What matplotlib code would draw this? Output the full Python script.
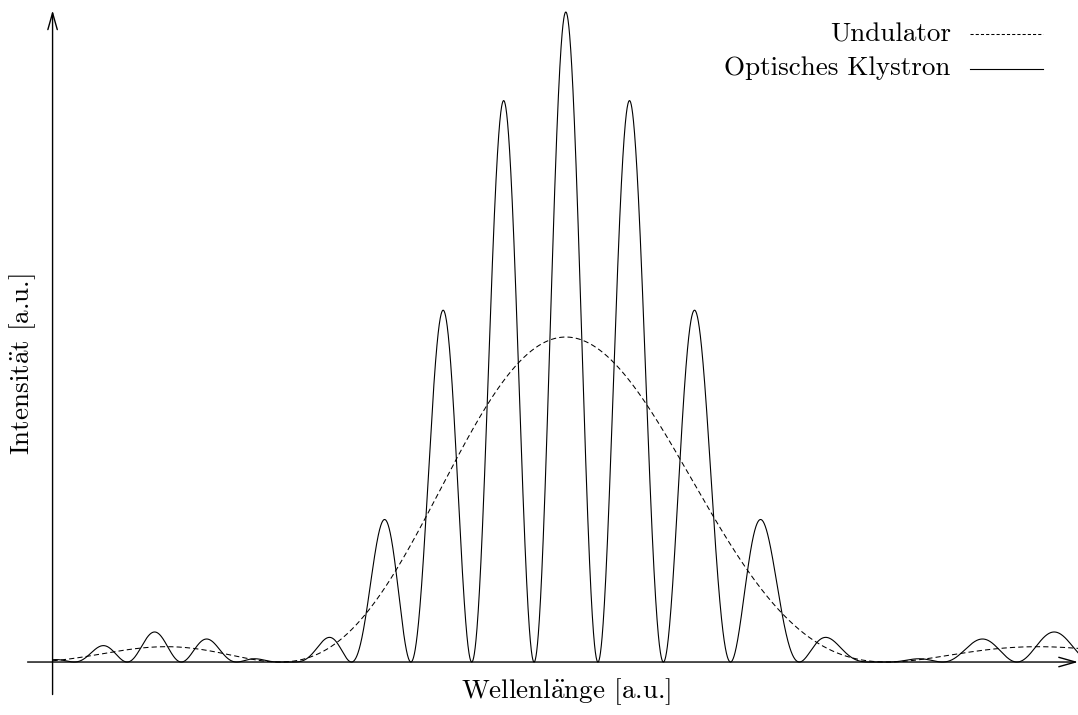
import numpy as np
import matplotlib
matplotlib.use("Agg")
from matplotlib import pyplot as plt
from matplotlib.lines import Line2D

plt.rcParams["font.family"] = ["cmr10", "DejaVu Serif"]
plt.rcParams["mathtext.fontset"] = "cm"
plt.rcParams["axes.formatter.use_mathtext"] = True

# Wellenlaenge relativ zur Resonanz (lambda / lambda_0)
lam_min, lam_max = 0.8913, 1.0984
lam_axis = 0.9014          # Lage der y-Achse, Kurven beginnen hier
n_undulator = 17.2         # Nullstellen des Undulatorspektrums bei ~0.945 / 1.062
n_klystron = 81.5          # Modulationsperiode des optischen Klystrons
y_min, y_max = -0.163, 2.037

# theoretische Kurven (sinc^2 bzw. sinc^2 * (1 + cos))
lam = np.linspace(lam_axis, lam_max, 5000)
dnu = 1.0 / lam - 1.0
undulator = np.sinc(n_undulator * dnu) ** 2
klystron = undulator * (1 + np.cos(2 * np.pi * n_klystron * dnu))

fig = plt.figure(figsize=(10.78, 7.15), dpi=100)
ax = fig.add_axes([0, 0, 1, 1])
ax.set_xlim(lam_min, lam_max)
ax.set_ylim(y_min, y_max)
ax.axis("off")

ax.plot(lam, undulator, color="black", lw=0.75, linestyle=(0, (5, 3)))
ax.plot(lam, klystron, color="black", lw=0.8)

# Achsen mit Pfeilspitzen
arrow = dict(arrowstyle="->,head_length=0.6,head_width=0.17", color="black",
             lw=1.0, shrinkA=0, shrinkB=0, mutation_scale=20)
ax.annotate("", xy=(lam_max, 0), xytext=(0.8966, 0), arrowprops=arrow)
ax.annotate("", xy=(lam_axis, 2.005), xytext=(lam_axis, -0.1), arrowprops=arrow)

fs = 19.5
ax.text(0.525, 0.032, r"Wellenl$\ddot{\rm a}$nge [a.u.]", transform=ax.transAxes,
        ha="center", va="center", fontsize=fs)
ax.text(0.021, 0.49, r"Intensit$\ddot{\rm a}$t [a.u.]", transform=ax.transAxes,
        ha="center", va="center", rotation=90, fontsize=fs)

# Legende (Text rechtsbuendig, Linienmuster rechts)
ax.text(0.882, 1 - 41 / 715, "Undulator", transform=ax.transAxes,
        ha="right", va="baseline", fontsize=fs)
ax.text(0.882, 1 - 75 / 715, "Optisches Klystron", transform=ax.transAxes,
        ha="right", va="baseline", fontsize=fs)
ax.add_line(Line2D([970 / 1078, 1043 / 1078], [1 - 34 / 715] * 2, transform=ax.transAxes,
                   color="black", lw=0.75, linestyle=(0, (3, 2))))
ax.add_line(Line2D([970 / 1078, 1043 / 1078], [1 - 69 / 715] * 2, transform=ax.transAxes,
                   color="black", lw=0.8))

fig.savefig("out.png", dpi=100)
